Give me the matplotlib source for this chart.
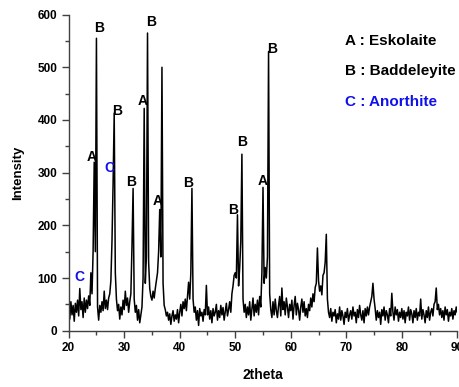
import numpy as np
import matplotlib
matplotlib.use("Agg")
import matplotlib.pyplot as plt

plt.rcParams["font.family"] = ["Liberation Sans", "DejaVu Sans"]
plt.rcParams["font.weight"] = "bold"

# scan grid: 20-90 deg, step 0.2 deg
two_theta = np.round(np.arange(20.0, 90.001, 0.2), 1)

# intensities, one row per degree (x.0, x.2, x.4, x.6, x.8)
intensity = [
    45, 22, 55, 30, 48,      # 20
    18, 52, 35, 58, 28,      # 21
    80, 40, 55, 25, 62,      # 22
    35, 58, 42, 66, 48,      # 23
    110, 70, 150, 320, 150,  # 24
    555, 45, 20, 48, 35,     # 25
    55, 38, 75, 42, 58,      # 26
    40, 62, 70, 95, 170,     # 27
    280, 413, 110, 60, 38,   # 28
    50, 22, 45, 30, 58,      # 29
    40, 75, 48, 62, 35,      # 30
    55, 70, 160, 270, 60,    # 31
    35, 48, 20, 40, 15,      # 32
    30, 45, 100, 422, 90,    # 33
    140, 565, 130, 80, 65,   # 34
    58, 75, 62, 80, 95,      # 35
    110, 150, 230, 140, 500, # 36
    90, 48, 40, 28, 35,      # 37
    20, 32, 12, 28, 38,      # 38
    18, 30, 22, 40, 15,      # 39
    35, 50, 28, 55, 42,      # 40
    60, 38, 64, 92, 60,      # 41
    110, 270, 60, 35, 45,    # 42
    20, 38, 10, 42, 28,      # 43
    35, 18, 40, 30, 86,      # 44
    30, 45, 22, 38, 15,      # 45
    42, 28, 35, 50, 20,      # 46
    38, 25, 48, 30, 44,      # 47
    20, 36, 52, 28, 40,      # 48
    55, 35, 70, 85, 105,     # 49
    110, 100, 220, 85, 120,  # 50
    170, 335, 60, 35, 50,    # 51
    25, 45, 30, 55, 20,      # 52
    40, 62, 28, 50, 35,      # 53
    58, 30, 65, 45, 110,     # 54
    272, 90, 120, 100, 140,  # 55
    530, 70, 40, 25, 55,     # 56
    30, 60, 38, 25, 48,      # 57
    65, 28, 81, 40, 55,      # 58
    30, 62, 45, 25, 50,      # 59
    38, 58, 22, 48, 65,      # 60
    30, 52, 40, 20, 45,      # 61
    60, 35, 55, 28, 42,      # 62
    25, 50, 38, 62, 45,      # 63
    70, 55, 82, 90, 157,     # 64
    95, 75, 85, 68, 105,     # 65
    110, 130, 183, 60, 35,   # 66
    25, 42, 18, 35, 28,      # 67
    40, 15, 32, 22, 45,      # 68
    20, 38, 28, 12, 35,      # 69
    25, 42, 18, 30, 38,      # 70
    22, 45, 28, 35, 15,      # 71
    40, 25, 48, 30, 20,      # 72
    38, 15, 42, 28, 45,      # 73
    30, 45, 55, 65, 90,      # 74
    60, 42, 20, 38, 25,      # 75
    35, 12, 40, 28, 45,      # 76
    20, 38, 30, 15, 42,      # 77
    28, 71, 35, 20, 45,      # 78
    30, 40, 18, 35, 25,      # 79
    42, 22, 38, 15, 35,      # 80
    28, 45, 20, 40, 32,      # 81
    15, 38, 25, 42, 20,      # 82
    35, 28, 60, 22, 40,      # 83
    30, 15, 38, 25, 45,      # 84
    20, 35, 42, 28, 50,      # 85
    55, 81, 40, 50, 30,      # 86
    42, 25, 38, 20, 45,      # 87
    30, 40, 18, 35, 28,      # 88
    42, 22, 38, 30, 45,      # 89
    35,                      # 90
]

# peak phase labels
label_text = ["C", "A", "B", "C", "B", "B", "A", "B", "A", "B", "B", "B", "A", "B"]
label_x = [21.9, 24.15, 25.45, 27.35, 28.65, 31.25, 33.35, 34.85, 36.05, 41.5, 49.7, 51.3, 55.0, 56.6]
label_y = [102, 330, 575, 309, 417, 283, 436, 586, 247, 280, 230, 359, 284, 534]
label_color = {"A": "black", "B": "black", "C": "#1010ee"}

legend_lines = ["A : Eskolaite", "B : Baddeleyite", "C : Anorthite"]
legend_y = [550, 493, 435]

fig = plt.figure(figsize=(4.6, 3.87), dpi=100)
ax = fig.add_axes([0.1493, 0.1455, 0.8449, 0.8168])

ax.plot(two_theta, intensity, color="black", lw=1.1)

for t, x, y in zip(label_text, label_x, label_y):
    ax.text(x, y, t, ha="center", va="center", fontsize=10,
            fontweight="bold", color=label_color[t])

for t, y in zip(legend_lines, legend_y):
    ax.text(69.7, y, t, ha="left", va="center", fontsize=11,
            fontweight="bold", color=label_color[t[0]])

ax.set_xlim(20, 90)
ax.set_ylim(0, 600)
ax.set_xticks(range(20, 91, 10))
ax.set_xticks(range(25, 90, 10), minor=True)
ax.set_yticks(range(0, 601, 100))
ax.set_yticks(range(50, 600, 100), minor=True)

for side in ["top", "right"]:
    ax.spines[side].set_visible(False)
for side in ["left", "bottom"]:
    ax.spines[side].set_color("#404040")
    ax.spines[side].set_linewidth(1.0)

ax.tick_params(which="major", direction="out", length=5, width=1,
               color="#404040", labelsize=8.5, pad=3)
ax.tick_params(which="minor", direction="out", length=3, width=1,
               color="#404040")
for lab in ax.get_xticklabels() + ax.get_yticklabels():
    lab.set_fontweight("bold")

ax.set_xlabel("2theta", fontsize=10, fontweight="bold")
ax.set_ylabel("Intensity", fontsize=9.5, fontweight="bold")
ax.xaxis.set_label_coords(0.5, -0.118)
ax.yaxis.set_label_coords(-0.114, 0.5)

fig.savefig("out.png", dpi=100)
plt.close(fig)
